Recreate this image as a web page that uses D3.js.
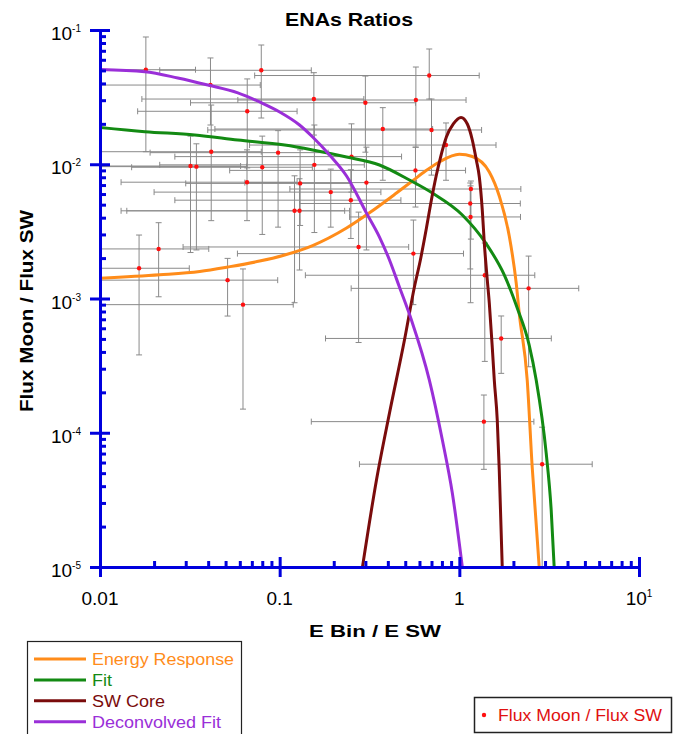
<!DOCTYPE html>
<html>
<head>
<meta charset="utf-8">
<script src="https://cdn.jsdelivr.net/npm/d3@7"></script>
<style>
  body { margin: 0; background: #fff; }
  svg text { font-family: "Liberation Sans", Arial, sans-serif; }
</style>
</head>
<body>
<div id="viz"></div>
<script>
// measured ratios (red points) with their error bars
var ptX   = [0.018, 0.079, 0.68, 0.155, 0.30, 0.573, 0.066, 0.375, 0.70, 0.0416, 0.098, 0.251, 0.156, 0.0319, 0.0344, 0.080, 0.570, 0.0658, 0.130, 0.304, 1.16, 0.1925, 0.249, 1.15, 0.121, 0.129, 1.155, 0.275, 0.0212, 0.555, 0.0165, 0.0513, 1.386, 2.43, 0.0625, 1.71, 1.37, 2.89, 0.843, 0.0412];
var ptY   = [0.0506, 0.0501, 0.0458, 0.0306, 0.0287, 0.0301, 0.0248, 0.0183, 0.0180, 0.0124, 0.0122, 0.0114, 0.0099, 0.0097, 0.0096, 0.0095, 0.0090, 0.00735, 0.0072, 0.0073, 0.00654, 0.0062, 0.0054, 0.0051, 0.0045, 0.0045, 0.00405, 0.00242, 0.00234, 0.00216, 0.00168, 0.00137, 0.00149, 0.00119, 0.0009, 0.000504, 0.000121, 0.0000583, 0.0139, 0.0389];
var ptXlo = [0.008, 0.0215, 0.0726, 0.0171, 0.0319, 0.0585, 0.0162, 0.0436, 0.0398, 0.008, 0.019, 0.0261, 0.0215, 0.008, 0.008, 0.015, 0.0527, 0.0131, 0.030, 0.064, 0.114, 0.020, 0.0261, 0.129, 0.0131, 0.0141, 0.245, 0.029, 0.008, 0.0582, 0.008, 0.008, 0.139, 0.25, 0.008, 0.18, 0.15, 0.278, 0.068, 0.008];
var ptXhi = [0.034, 0.150, 1.29, 0.294, 0.57, 1.09, 0.125, 0.71, 1.33, 0.079, 0.186, 0.477, 0.296, 0.0606, 0.0654, 0.152, 1.083, 0.125, 0.247, 0.578, 2.2, 0.366, 0.473, 2.185, 0.23, 0.245, 2.19, 0.5225, 0.0403, 1.055, 0.0314, 0.0975, 2.63, 4.62, 0.119, 3.25, 2.6, 5.49, 1.6, 0.078];
var ptYlo = [0.0124, 0.0221, 0.0306, 0.0165, 0.0123, 0.0134, 0.0094, 0.0076, 0.0083, 0.0038, 0.0034, 0.0062, 0.0031, 0.0022, 0.0023, 0.0030, 0.0048, 0.0038, 0.0035, 0.0023, 0.00277, 0.0034, 0.0028, 0.00166, 0.00093, 0.00163, 0.00093, 0.00047, 0.00103, 0.0009, 0.00038, 0.00074, 0.00034, 0.00031, 0.00015, 0.000277, 0.0000534, 0.000008, 0.0076, 0.0196];
var ptYhi = [0.0887, 0.0773, 0.0722, 0.0481, 0.0454, 0.0530, 0.0432, 0.0264, 0.0306, 0.0276, 0.0178, 0.0200, 0.0196, 0.0162, 0.0142, 0.0162, 0.0134, 0.0128, 0.0128, 0.0134, 0.0075, 0.0092, 0.0091, 0.00725, 0.0082, 0.0078, 0.0069, 0.0044, 0.00367, 0.00384, 0.00297, 0.00199, 0.00259, 0.00207, 0.00166, 0.000741, 0.000191, 0.00011, 0.0203, 0.0619];

// Energy Response curve
var respX = [0.01, 0.0215, 0.0359, 0.0514, 0.0774, 0.1066, 0.1526, 0.2357, 0.3162, 0.4467, 0.548, 0.6476, 0.774, 1.0, 1.181, 1.468, 1.668, 1.896, 2.073, 2.154, 2.387, 2.544, 2.783];
var respY = [0.001414, 0.0015, 0.00159, 0.001716, 0.0019, 0.00211, 0.00248, 0.00335, 0.00435, 0.0061, 0.0075, 0.0089, 0.0104, 0.01186, 0.01142, 0.00876, 0.0058, 0.00292, 0.0013, 0.00078, 0.000247, 0.0000556, 0.00001];

// Fit curve
var fitX = [0.01, 0.01778, 0.0337, 0.0585, 0.1066, 0.1526, 0.2357, 0.3594, 0.5275, 0.708, 1.039, 1.413, 1.778, 2.1, 2.448, 2.678, 3.043, 3.245, 3.372];
var fitY = [0.01878, 0.01748, 0.01652, 0.01516, 0.0139, 0.01277, 0.01132, 0.00987, 0.00763, 0.0061, 0.00419, 0.00255, 0.0015, 0.00085, 0.00045, 0.000247, 0.0000707, 0.0000266, 0.00001];

// SW Core curve
var coreX = [0.289, 0.3458, 0.4085, 0.495, 0.5623, 0.607, 0.656, 0.699, 0.745, 0.784, 0.847, 0.926, 1.022, 1.108, 1.181, 1.243, 1.292, 1.342, 1.377, 1.431, 1.468, 1.525, 1.565, 1.626, 1.668, 1.733];
var coreY = [0.00001, 0.0000445, 0.00014, 0.000491, 0.001218, 0.001936, 0.00335, 0.00542, 0.00832, 0.01113, 0.01596, 0.01995, 0.0223, 0.01995, 0.01516, 0.01076, 0.00804, 0.00456, 0.00259, 0.001373, 0.000926, 0.000435, 0.000247, 0.000124, 0.0000528, 0.00001];

// Deconvolved Fit curve
var decX = [0.01, 0.01778, 0.0271, 0.0398, 0.0585, 0.0794, 0.1, 0.129, 0.1526, 0.1896, 0.2357, 0.304, 0.3594, 0.4085, 0.464, 0.5412, 0.681, 0.8046, 0.914, 1.039];
var decY = [0.0508, 0.0489, 0.0439, 0.0389, 0.0340, 0.0286, 0.0245, 0.0196, 0.01596, 0.01172, 0.00818, 0.00434, 0.00287, 0.001936, 0.001218, 0.000692, 0.000247, 0.0000883, 0.0000356, 0.00001];

var yMajor = [1e-1, 1e-2, 1e-3, 1e-4, 1e-5];
var yExp = ["-1", "-2", "-3", "-4", "-5"];
var xMajor = [0.01, 0.1, 1, 10];
var xLabels = ["0.01", "0.1", "1", "10"];

var legendNames = ["Energy Response", "Fit", "SW Core", "Deconvolved Fit"];
var legendColors = ["#ff8c1a", "#138a13", "#7a0c0c", "#9a2fd8"];
var pointName = "Flux Moon / Flux SW";

var width = 686, height = 734;
var plot = {left: 100, right: 639, top: 30, bottom: 567};
var axisBlue = "#0000dd";

var x = d3.scaleLog().domain([0.01, 10]).range([plot.left, plot.right]);
var y = d3.scaleLog().domain([1e-5, 1e-1]).range([plot.bottom, plot.top]);

var svg = d3.select("#viz").append("svg")
    .attr("width", width)
    .attr("height", height);

svg.append("defs").append("clipPath")
    .attr("id", "plotclip")
  .append("rect")
    .attr("x", plot.left)
    .attr("y", plot.top)
    .attr("width", plot.right - plot.left)
    .attr("height", plot.bottom - plot.top);

var inner = svg.append("g").attr("clip-path", "url(#plotclip)");

// error bars
var idx = d3.range(ptX.length);
var bars = inner.append("g")
    .attr("stroke", "#8a8a8a")
    .attr("stroke-width", 1)
    .attr("fill", "none");

idx.forEach(function(i) {
  var cx = x(ptX[i]), cy = y(ptY[i]);
  var xl = x(ptXlo[i]), xr = x(ptXhi[i]);
  var yt = y(ptYhi[i]), yb = y(ptYlo[i]);
  bars.append("line").attr("x1", xl).attr("x2", xr).attr("y1", cy).attr("y2", cy);
  bars.append("line").attr("x1", cx).attr("x2", cx).attr("y1", yt).attr("y2", yb);
  // caps
  bars.append("line").attr("x1", xl).attr("x2", xl).attr("y1", cy - 3).attr("y2", cy + 3);
  bars.append("line").attr("x1", xr).attr("x2", xr).attr("y1", cy - 3).attr("y2", cy + 3);
  bars.append("line").attr("x1", cx - 3).attr("x2", cx + 3).attr("y1", yt).attr("y2", yt);
  bars.append("line").attr("x1", cx - 3).attr("x2", cx + 3).attr("y1", yb).attr("y2", yb);
});

inner.append("g").selectAll("circle")
    .data(idx)
  .enter().append("circle")
    .attr("cx", function(i) { return x(ptX[i]); })
    .attr("cy", function(i) { return y(ptY[i]); })
    .attr("r", 2.2)
    .attr("fill", "#ff1010");

// curves
var line = d3.line()
    .x(function(d) { return x(d[0]); })
    .y(function(d) { return y(d[1]); })
    .curve(d3.curveMonotoneX);

var curves = [
  d3.zip(respX, respY),
  d3.zip(fitX, fitY),
  d3.zip(coreX, coreY),
  d3.zip(decX, decY)
];

inner.selectAll(".curve")
    .data(curves)
  .enter().append("path")
    .attr("class", "curve")
    .attr("d", line)
    .attr("fill", "none")
    .attr("stroke", function(d, i) { return legendColors[i]; })
    .attr("stroke-width", 3)
    .attr("stroke-linejoin", "round");

// axes: major ticks cross the axis line, minor ticks sit inside
var yMinor = y.ticks().filter(function(v) { return yMajor.indexOf(v) < 0 && Math.abs(Math.log10(v) % 1) > 1e-6; });
var xMinor = x.ticks().filter(function(v) { return xMajor.indexOf(v) < 0 && Math.abs(Math.log10(v) % 1) > 1e-6; });

function styleAxis(g, w) {
  g.selectAll("path, line").attr("stroke", axisBlue).attr("stroke-width", w);
  g.selectAll("text").remove();
}

svg.append("g").attr("transform", "translate(" + plot.left + ",0)")
    .call(d3.axisLeft(y).tickValues(yMajor).tickSize(10).tickSizeOuter(0).tickFormat(""))
    .call(styleAxis, 3);
svg.append("g").attr("transform", "translate(" + plot.left + ",0)")
    .call(d3.axisRight(y).tickValues(yMajor).tickSize(10).tickSizeOuter(0).tickFormat(""))
    .call(styleAxis, 3);
svg.append("g").attr("transform", "translate(" + plot.left + ",0)")
    .call(d3.axisRight(y).tickValues(yMinor).tickSize(6).tickSizeOuter(0).tickFormat(""))
    .call(styleAxis, 3);

svg.append("g").attr("transform", "translate(0," + plot.bottom + ")")
    .call(d3.axisBottom(x).tickValues(xMajor).tickSize(10).tickSizeOuter(0).tickFormat(""))
    .call(styleAxis, 3);
svg.append("g").attr("transform", "translate(0," + plot.bottom + ")")
    .call(d3.axisTop(x).tickValues(xMajor).tickSize(10).tickSizeOuter(0).tickFormat(""))
    .call(styleAxis, 3);
svg.append("g").attr("transform", "translate(0," + plot.bottom + ")")
    .call(d3.axisTop(x).tickValues(xMinor).tickSize(6).tickSizeOuter(0).tickFormat(""))
    .call(styleAxis, 3);

// tick labels
var ylab = svg.append("g").selectAll("text")
    .data(yMajor)
  .enter().append("text")
    .attr("x", 81)
    .attr("y", function(d) { return y(d) + 10; })
    .attr("text-anchor", "end")
    .attr("font-size", 19)
    .attr("fill", "#000");
ylab.append("tspan").text("10");
ylab.append("tspan")
    .attr("font-size", 10)
    .attr("dy", -8)
    .text(function(d, i) { return yExp[i]; });

svg.append("g").selectAll("text")
    .data(xMajor)
  .enter().append("text")
    .attr("x", function(d) { return x(d); })
    .attr("y", 605)
    .attr("text-anchor", "middle")
    .attr("font-size", 19)
    .each(function(d, i) {
      var t = d3.select(this);
      if (d == 10) {
        t.append("tspan").text("10");
        t.append("tspan").attr("font-size", 10).attr("dy", -8).text("1");
      } else {
        t.text(xLabels[i]);
      }
    });

// titles
svg.append("text")
    .attr("x", 349).attr("y", 26)
    .attr("text-anchor", "middle")
    .attr("font-size", 18).attr("font-weight", "bold")
    .attr("textLength", 128).attr("lengthAdjust", "spacingAndGlyphs")
    .text("ENAs Ratios");

svg.append("text")
    .attr("x", 375).attr("y", 637)
    .attr("text-anchor", "middle")
    .attr("font-size", 17).attr("font-weight", "bold")
    .attr("textLength", 132).attr("lengthAdjust", "spacingAndGlyphs")
    .text("E Bin / E SW");

svg.append("text")
    .attr("transform", "translate(33,311)rotate(-90)")
    .attr("text-anchor", "middle")
    .attr("font-size", 18).attr("font-weight", "bold")
    .attr("textLength", 202).attr("lengthAdjust", "spacingAndGlyphs")
    .text("Flux Moon / Flux SW");

// legend for curves
var legLens = [142, 20, 73, 129];
var leg = svg.append("g");
leg.append("rect")
    .attr("x", 27.5).attr("y", 641.5)
    .attr("width", 214).attr("height", 100)
    .attr("fill", "#fff").attr("stroke", "#222").attr("stroke-width", 1.2);

var rows = leg.selectAll(".lrow")
    .data(legendNames)
  .enter().append("g")
    .attr("class", "lrow")
    .attr("transform", function(d, i) { return "translate(0," + (659 + i * 20.9) + ")"; });
rows.append("line")
    .attr("x1", 34).attr("x2", 86)
    .attr("stroke", function(d, i) { return legendColors[i]; })
    .attr("stroke-width", 3);
rows.append("text")
    .attr("x", 92).attr("y", 6)
    .attr("font-size", 16)
    .attr("fill", function(d, i) { return legendColors[i]; })
    .attr("textLength", function(d, i) { return legLens[i]; })
    .attr("lengthAdjust", "spacingAndGlyphs")
    .text(function(d) { return d; });

// legend for the points
var leg2 = svg.append("g");
leg2.append("rect")
    .attr("x", 474.5).attr("y", 697.5)
    .attr("width", 197).attr("height", 35)
    .attr("fill", "#fff").attr("stroke", "#222").attr("stroke-width", 1.5);
leg2.append("circle")
    .attr("cx", 484).attr("cy", 715)
    .attr("r", 2.2).attr("fill", "#ff1010");
leg2.append("text")
    .attr("x", 498).attr("y", 721)
    .attr("font-size", 16)
    .attr("fill", "#e01010")
    .attr("textLength", 164).attr("lengthAdjust", "spacingAndGlyphs")
    .text(pointName);
</script>
</body>
</html>
